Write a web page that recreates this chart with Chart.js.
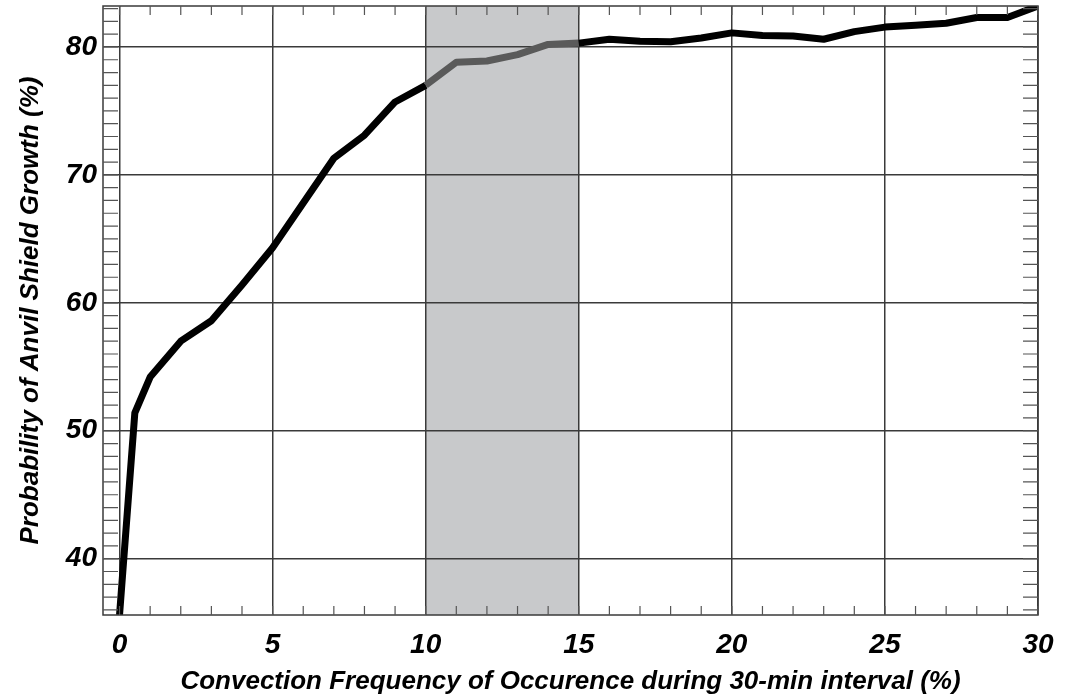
<!DOCTYPE html>
<html>
<head>
<meta charset="utf-8">
<script src="https://cdn.jsdelivr.net/npm/chart.js@4.4.1/dist/chart.umd.min.js"></script>
<style>
  html, body { margin: 0; padding: 0; background: #fff; }
  #anvilChart { display: block; }
</style>
</head>
<body>
<canvas id="anvilChart" width="1076" height="697"></canvas>
<script>
// convection frequency (%) and probability of anvil shield growth (%)
const freqValues = [0, 0.5, 1, 2, 3, 4, 5, 6, 7, 8, 9, 10, 11, 12, 13, 14, 15,
  16, 17, 18, 19, 20, 21, 22, 23, 24, 25, 26, 27, 28, 29, 30];
const probValues = [35.6, 51.4, 54.2, 57.0, 58.6, 61.4, 64.3, 67.8, 71.3, 73.1, 75.7, 77.0, 78.8, 78.9, 79.4, 80.2, 80.3,
  80.6, 80.45, 80.4, 80.7, 81.1, 80.9, 80.85, 80.6, 81.2, 81.55, 81.7, 81.85, 82.3, 82.3, 83.2];
const xTickLabels = [0, 5, 10, 15, 20, 25, 30];
const yTickLabels = [40, 50, 60, 70, 80];
const shadedRange = [10, 15];

const FONT = "'Liberation Sans', Arial, sans-serif";
const gridColor = '#3a3a3a';

const points = freqValues.map((x, i) => ({ x: x, y: probValues[i] }));

function inShade(x0, x1) {
  return x0 >= shadedRange[0] && x1 <= shadedRange[1];
}

// gray band drawn before the grid
const shadePlugin = {
  id: 'shade',
  beforeDraw(chart) {
    const { ctx, chartArea, scales } = chart;
    const left = scales.x.getPixelForValue(shadedRange[0]);
    const right = scales.x.getPixelForValue(shadedRange[1]);
    ctx.save();
    ctx.fillStyle = '#c8c9cb';
    ctx.fillRect(left, chartArea.top, right - left, chartArea.bottom - chartArea.top);
    ctx.restore();
  }
};

// frame on all four sides + inward minor ticks
const framePlugin = {
  id: 'frame',
  afterDraw(chart) {
    const { ctx, chartArea, scales } = chart;
    const { left, right, top, bottom } = chartArea;
    ctx.save();
    ctx.strokeStyle = gridColor;
    ctx.lineWidth = 1.5;
    ctx.strokeRect(left, top, right - left, bottom - top);

    ctx.lineWidth = 1.2;
    ctx.strokeStyle = '#555';
    ctx.beginPath();
    for (let v = Math.ceil(scales.x.min); v <= scales.x.max; v++) {
      const px = scales.x.getPixelForValue(v);
      ctx.moveTo(px, top);
      ctx.lineTo(px, top + 9);
      ctx.moveTo(px, bottom);
      ctx.lineTo(px, bottom - 9);
    }
    for (let v = Math.ceil(scales.y.min); v <= scales.y.max; v++) {
      const py = scales.y.getPixelForValue(v);
      ctx.moveTo(left, py);
      ctx.lineTo(left + 15, py);
      ctx.moveTo(right, py);
      ctx.lineTo(right - 15, py);
    }
    ctx.stroke();
    ctx.restore();
  }
};

const tickFont = { family: FONT, size: 28, weight: 'bold', style: 'italic' };
const titleFont = { family: FONT, size: 26, weight: 'bold', style: 'italic' };

new Chart(document.getElementById('anvilChart'), {
  type: 'line',
  data: {
    datasets: [{
      data: points,
      borderColor: '#000',
      borderWidth: 7,
      pointRadius: 0,
      tension: 0,
      fill: false,
      borderJoinStyle: 'round',
      clip: 0,
      segment: {
        borderColor: c => inShade(c.p0.parsed.x, c.p1.parsed.x) ? '#5a5a5a' : '#000'
      }
    }]
  },
  options: {
    responsive: false,
    animation: false,
    devicePixelRatio: 1,
    layout: { padding: { top: 6, right: 38, left: 0, bottom: 0 } },
    plugins: {
      legend: { display: false },
      tooltip: { enabled: false }
    },
    scales: {
      x: {
        type: 'linear',
        min: -0.54,
        max: 30,
        afterBuildTicks: s => { s.ticks = xTickLabels.map(v => ({ value: v })); },
        afterFit: s => { s.height = 82; s.paddingLeft = 0; s.paddingRight = 0; },
        grid: { color: gridColor, lineWidth: 1.5, drawTicks: false },
        border: { display: false },
        ticks: {
          color: '#000',
          padding: 13,
          maxRotation: 0,
          font: tickFont
        },
        title: {
          display: true,
          text: 'Convection Frequency of Occurence during 30-min interval (%)',
          color: '#000',
          padding: { top: 0, bottom: 0 },
          font: titleFont
        }
      },
      y: {
        min: 35.6,
        max: 83.2,
        afterBuildTicks: s => { s.ticks = yTickLabels.map(v => ({ value: v })); },
        afterFit: s => { s.width = 103; s.paddingTop = 0; s.paddingBottom = 0; },
        grid: { color: gridColor, lineWidth: 1.5, drawTicks: false },
        border: { display: false },
        ticks: {
          color: '#000',
          padding: 6,
          font: tickFont
        },
        title: {
          display: true,
          text: 'Probability of Anvil Shield Growth (%)',
          color: '#000',
          padding: { top: 15, bottom: 0 },
          font: titleFont
        }
      }
    }
  },
  plugins: [shadePlugin, framePlugin]
});
</script>
</body>
</html>
